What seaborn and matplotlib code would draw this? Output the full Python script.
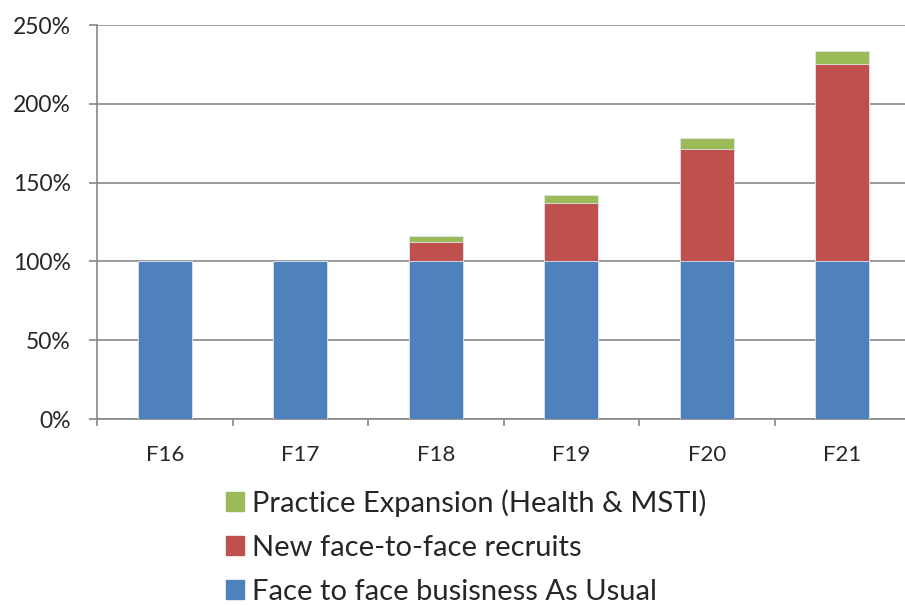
import matplotlib
matplotlib.use("Agg")
import matplotlib.pyplot as plt
import matplotlib.patches as mpatches
import seaborn as sns
import pandas as pd
import numpy as np

# ----------------------------------------------------------------------
# Data (percent of F16 level)
# ----------------------------------------------------------------------
years = ["F16", "F17", "F18", "F19", "F20", "F21"]
business_as_usual = [100, 100, 100, 100, 100, 100]
new_recruits = [0, 0, 12.5, 37.2, 71.5, 125.1]
practice_expansion = [0, 0, 3.6, 4.9, 7.0, 8.2]

labels = [
    "Practice Expansion (Health & MSTI)",
    "New face-to-face recruits",
    "Face to face busisness As Usual",
]
colors = ["#9BBB59", "#C0504D", "#4F81BD"]

# ----------------------------------------------------------------------
# Stacked totals, drawn tallest first so each layer covers the one above
# ----------------------------------------------------------------------
bau = np.array(business_as_usual)
rec = bau + np.array(new_recruits)
tot = rec + np.array(practice_expansion)
df = pd.DataFrame({"year": years, "total": tot, "recruits": rec, "bau": bau})

sns.set_style("white")
plt.rcParams["font.family"] = ["Lato", "DejaVu Sans"]

fig = plt.figure(figsize=(9.05, 6.05), dpi=100)
ax = fig.add_axes([97 / 905, 1 - 419 / 605, 813 / 905, 394 / 605])

for col, c in zip(["total", "recruits", "bau"], colors):
    sns.barplot(data=df, x="year", y=col, color=c, width=0.4, saturation=1,
                edgecolor="#dfe6ef", linewidth=0.6, ax=ax, zorder=3)

ax.set_ylim(0, 250)
ax.set_xlim(-0.5, 5.5)
ax.set_yticks([0, 50, 100, 150, 200, 250])
ax.set_yticklabels([f"{v}%" for v in [0, 50, 100, 150, 200, 250]])
ax.set_xlabel("")
ax.set_ylabel("")

ax.yaxis.grid(True, color="#878787", linewidth=1.2, zorder=0)
ax.set_axisbelow(True)
for s in ["top", "right"]:
    ax.spines[s].set_visible(False)
for s in ["left", "bottom"]:
    ax.spines[s].set_color("#878787")
    ax.spines[s].set_linewidth(1.2)

# x ticks sit between categories
ax.set_xticks(np.arange(-0.5, 6, 1), minor=True)
ax.tick_params(axis="x", which="major", length=0, pad=19, labelsize=16)
ax.tick_params(axis="x", which="minor", length=5, width=1.2, color="#878787",
               direction="out", bottom=True)
ax.tick_params(axis="y", length=6, width=1.2, color="#878787", pad=13,
               labelsize=16.5, left=True)

handles = [mpatches.Patch(color=c, label=l) for c, l in zip(colors, labels)]
fig.legend(handles=handles, loc="upper left", bbox_to_anchor=(226 / 905, 1 - 489 / 605),
           frameon=False, fontsize=21, handlelength=0.6, handleheight=0.6,
           handletextpad=0.3, labelspacing=0.62, borderpad=0, borderaxespad=0)

fig.savefig("out.png", dpi=100)
